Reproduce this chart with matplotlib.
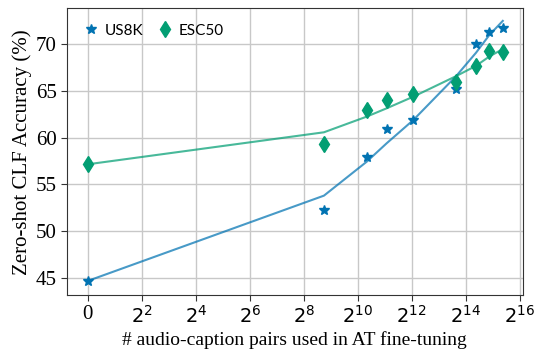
import numpy as np
import matplotlib
matplotlib.use("Agg")
import matplotlib.pyplot as plt

# number of audio-caption pairs
pairs = [0, 430, 1290, 2150, 4270, 12800, 21300, 30000, 42400]

us8k = [44.65, 52.25, 57.93, 60.94, 61.9, 65.19, 70.0, 71.3, 71.76]
esc50 = [57.15, 59.33, 62.97, 64.0, 64.65, 66.0, 67.7, 69.3, 69.2]

us8k_fit = [44.65, 53.79, 57.43, 59.4, 61.9, 66.6, 69.1, 71.0, 72.52]
esc50_fit = [57.15, 60.58, 62.26, 63.15, 64.4, 66.6, 67.7, 68.7, 69.5]

xticks = [0, 2, 4, 6, 8, 10, 12, 14, 16]
yticks = [45, 50, 55, 60, 65, 70]

blue = "#0173b2"
green = "#029e73"

x = np.log2(np.maximum(np.array(pairs), 1))

fig = plt.figure(figsize=(5.4, 3.49), dpi=100)
ax = fig.add_axes([0.1235, 0.1547, 0.845, 0.8213])

ax.plot(x, us8k_fit, color=blue, alpha=0.72, lw=1.5, zorder=2)
ax.plot(x, esc50_fit, color=green, alpha=0.72, lw=1.5, zorder=2)
ax.plot(x, us8k, ls="none", marker="*", ms=7, color=blue, label="US8K", zorder=3)
ax.plot(x, esc50, ls="none", marker="d", ms=8, color=green, label="ESC50", zorder=3)

ax.set_xlim(-0.78, 16.12)
ax.set_ylim(43.14, 73.86)
ax.set_xticks(xticks)
ax.set_xticklabels(["0"] + [r"$2^{%d}$" % k for k in xticks[1:]])
ax.set_yticks(yticks)
for lab in ax.get_yticklabels() + ax.get_xticklabels()[:1]:
    lab.set_family("Liberation Serif")
    lab.set_fontsize(15)
for lab in ax.get_xticklabels()[1:]:
    lab.set_fontsize(14)

ax.grid(True, color="#c8c8c8", lw=1.0)
ax.set_axisbelow(True)
for s in ax.spines.values():
    s.set_color("#333333")
ax.tick_params(length=4, color="#333333", pad=3)

ax.set_xlabel("# audio-caption pairs used in AT fine-tuning",
              family="Liberation Serif", fontsize=14, labelpad=3)
ax.set_ylabel("Zero-shot CLF Accuracy (%)", family="Liberation Serif",
              fontsize=15, labelpad=3)

ax.legend(loc="upper left", ncol=2, frameon=False, handletextpad=0.3,
          columnspacing=0.8, handlelength=1.2, borderaxespad=0.6,
          prop={"family": "Lato", "size": 11})

fig.savefig("out.png", dpi=100)
